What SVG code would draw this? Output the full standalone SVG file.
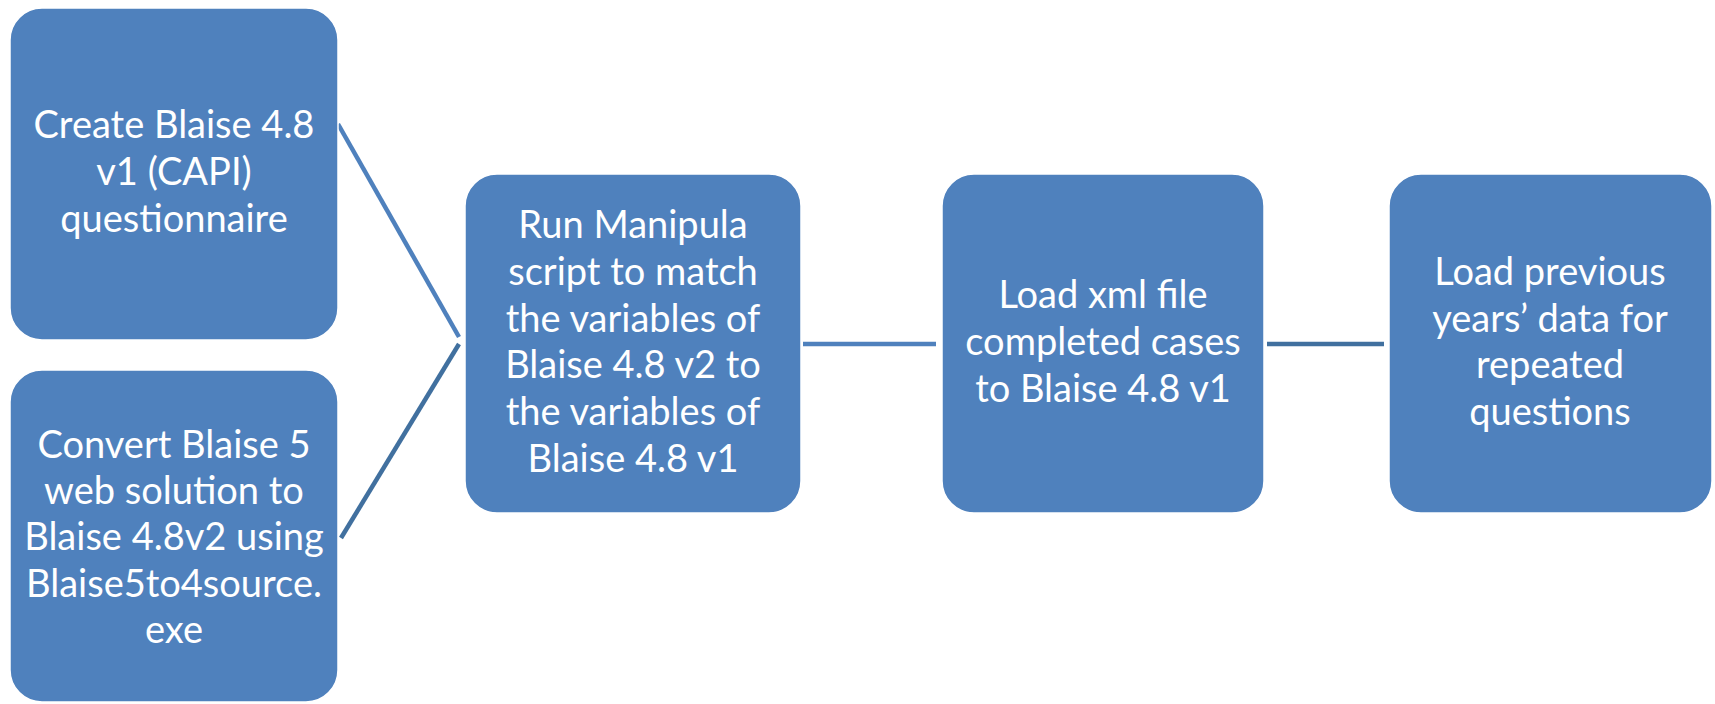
<svg xmlns="http://www.w3.org/2000/svg" width="1715" height="704" viewBox="0 0 1715 704">
<style>
.box{fill:#4f81bd;stroke:#ffffff;stroke-width:1.5}
.t{font-family:Lato,"Open Sans","Liberation Sans",sans-serif;font-size:38px;fill:#ffffff;text-anchor:middle}
.c1{stroke:#4f81bd;stroke-width:4.5;fill:none}
.c2{stroke:#41709f;stroke-width:4.5;fill:none}
</style>
<rect width="1715" height="704" fill="#ffffff"/>
<g id="connectors">
<line class="c1" x1="338" y1="124" x2="459" y2="337"/>
<line class="c2" x1="341" y1="538" x2="459" y2="344"/>
<line class="c1" x1="803" y1="344" x2="936" y2="344"/>
<line class="c2" x1="1267" y1="344" x2="1384" y2="344"/>
</g>
<g id="n1">
<rect class="box" x="10" y="8" width="328" height="332" rx="32"/>
<text class="t"><tspan x="174" y="138">Create Blaise 4.8</tspan><tspan x="174" y="185">v1 (CAPI)</tspan><tspan x="174" y="232">questionnaire</tspan></text>
</g>
<g id="n2">
<rect class="box" x="10" y="370" width="328" height="332" rx="32"/>
<text class="t"><tspan x="174" y="458">Convert Blaise 5</tspan><tspan x="174" y="504">web solution to</tspan><tspan x="174" y="550">Blaise 4.8v2 using</tspan><tspan x="174" y="597">Blaise5to4source.</tspan><tspan x="174" y="643">exe</tspan></text>
</g>
<g id="n3">
<rect class="box" x="465" y="174" width="336" height="339" rx="32"/>
<text class="t"><tspan x="633" y="238">Run Manipula</tspan><tspan x="633" y="285">script to match</tspan><tspan x="633" y="332">the variables of</tspan><tspan x="633" y="378">Blaise 4.8 v2 to</tspan><tspan x="633" y="425">the variables of</tspan><tspan x="633" y="472">Blaise 4.8 v1</tspan></text>
</g>
<g id="n4">
<rect class="box" x="942" y="174" width="322" height="339" rx="32"/>
<text class="t"><tspan x="1103" y="308">Load xml file</tspan><tspan x="1103" y="355">completed cases</tspan><tspan x="1103" y="402">to Blaise 4.8 v1</tspan></text>
</g>
<g id="n5">
<rect class="box" x="1389" y="174" width="323" height="339" rx="32"/>
<text class="t"><tspan x="1550" y="285">Load previous</tspan><tspan x="1550" y="332">years’ data for</tspan><tspan x="1550" y="378">repeated</tspan><tspan x="1550" y="425">questions</tspan></text>
</g>
</svg>
